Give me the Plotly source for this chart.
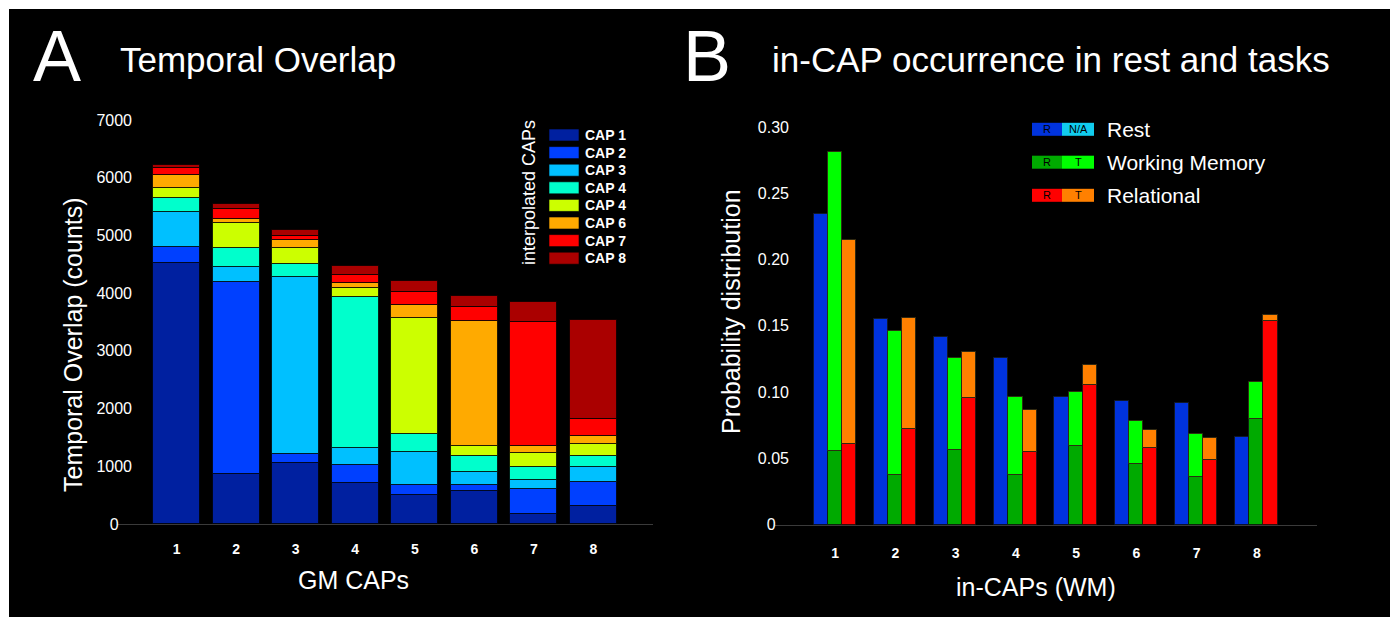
import numpy as np
import plotly.graph_objects as go

# ---------------- data ----------------
W, H = 1390, 617
FONT = "Liberation Sans, Arial, Helvetica, sans-serif"

gm_caps = [1, 2, 3, 4, 5, 6, 7, 8]
gm_cap_labels = ["1", "2", "3", "4", "5", "6", "7", "8"]

cap_names = ["CAP 1", "CAP 2", "CAP 3", "CAP 4", "CAP 4", "CAP 6", "CAP 7", "CAP 8"]
cap_colors = ["#0020a0", "#0040ff", "#00c0ff", "#00ffcc", "#ccff00", "#ffaa00", "#ff0000", "#aa0000"]
cap1 = [4514, 868, 1059, 712, 498, 573, 168, 307]
cap2 = [277, 3321, 161, 318, 179, 99, 445, 422]
cap3 = [608, 267, 3063, 289, 578, 231, 146, 261]
cap4 = [255, 318, 225, 2610, 313, 272, 231, 196]
cap4b = [162, 446, 271, 163, 2008, 174, 243, 208]
cap6 = [225, 70, 146, 92, 221, 2175, 121, 134]
cap7 = [134, 166, 57, 127, 218, 231, 2141, 290]
cap8 = [45, 94, 110, 151, 198, 203, 347, 1723]
series_a = [cap1, cap2, cap3, cap4, cap4b, cap6, cap7, cap8]

ya_ticks = [0, 1000, 2000, 3000, 4000, 5000, 6000, 7000]
ya_labels = ["0", "1000", "2000", "3000", "4000", "5000", "6000", "7000"]

in_caps = [1, 2, 3, 4, 5, 6, 7, 8]
in_cap_labels = ["1", "2", "3", "4", "5", "6", "7", "8"]
rest = [0.234, 0.155, 0.1417, 0.1259, 0.096, 0.0934, 0.0915, 0.066]
wm_R = [0.0557, 0.0374, 0.056, 0.0374, 0.0592, 0.0459, 0.0361, 0.0796]
wm_T = [0.2253, 0.1089, 0.0694, 0.0591, 0.0406, 0.032, 0.032, 0.0279]
rel_R = [0.0608, 0.0721, 0.0957, 0.0549, 0.1051, 0.0575, 0.0485, 0.1536]
rel_T = [0.1539, 0.0835, 0.0347, 0.0317, 0.0153, 0.014, 0.017, 0.0045]

yb_ticks = [0, 0.05, 0.10, 0.15, 0.20, 0.25, 0.30]
yb_labels = ["0", "0.05", "0.10", "0.15", "0.20", "0.25", "0.30"]

legend_b = [
    ("Rest", "R", "N/A", "#0033dd", "#11ccee"),
    ("Working Memory", "R", "T", "#00aa00", "#00ff00"),
    ("Relational", "R", "T", "#ff0000", "#ff8000"),
]

# ---------------- helpers (screen px -> paper) ----------------
def px(x):
    return x / W

def py(y):
    return 1 - y / H

def pad(lbl, n):
    return lbl + "\u00a0" * n

fig = go.Figure()

# ---------------- panel A ----------------
base = np.zeros(len(gm_caps))
for vals, col, name in zip(series_a, cap_colors, cap_names):
    fig.add_trace(go.Bar(
        x=gm_caps, y=vals, base=base.copy(), width=0.79,
        marker=dict(color=col, line=dict(color="rgba(0,0,0,0.75)", width=1)),
        name=name, xaxis="x", yaxis="y", showlegend=False,
    ))
    base = base + np.array(vals)

# ---------------- panel B ----------------
bw = 0.235
fig.add_trace(go.Bar(x=in_caps, y=rest, base=0, width=bw, offset=-0.36,
                     marker=dict(color="#0033dd", line=dict(color="#101828", width=1)),
                     xaxis="x2", yaxis="y2", showlegend=False, name="Rest"))
fig.add_trace(go.Bar(x=in_caps, y=wm_R, base=0, width=bw, offset=-0.125,
                     marker=dict(color="#00aa00", line=dict(color="#102010", width=1)),
                     xaxis="x2", yaxis="y2", showlegend=False, name="WM R"))
fig.add_trace(go.Bar(x=in_caps, y=wm_T, base=wm_R, width=bw, offset=-0.125,
                     marker=dict(color="#00ff00", line=dict(color="#2a3010", width=1)),
                     xaxis="x2", yaxis="y2", showlegend=False, name="WM T"))
fig.add_trace(go.Bar(x=in_caps, y=rel_R, base=0, width=bw, offset=0.11,
                     marker=dict(color="#ff0000", line=dict(color="#301010", width=1)),
                     xaxis="x2", yaxis="y2", showlegend=False, name="Rel R"))
fig.add_trace(go.Bar(x=in_caps, y=rel_T, base=rel_R, width=bw, offset=0.11,
                     marker=dict(color="#ff8000", line=dict(color="#302810", width=1)),
                     xaxis="x2", yaxis="y2", showlegend=False, name="Rel T"))

axis_common = dict(showgrid=False, zeroline=False, automargin=False)
xt = dict(family=FONT, size=14, color="white", weight="bold")
yt = dict(family=FONT, size=16, color="white")

fig.update_layout(
    width=W, height=H,
    margin=dict(l=0, r=0, t=0, b=0, pad=0, autoexpand=False),
    paper_bgcolor="black", plot_bgcolor="rgba(0,0,0,0)",
    barmode="overlay", bargap=0,
    showlegend=False,
    xaxis=dict(domain=[px(117), px(653)], range=[0, 9], anchor="y",
               tickvals=gm_caps, ticktext=gm_cap_labels, tickfont=xt,
               showline=True, linecolor="#3a3a3a", linewidth=1,
               ticks="", ticklabelstandoff=12, **axis_common),
    yaxis=dict(domain=[py(524), py(120)], range=[0, 7000], anchor="free",
               position=px(132),
               tickvals=ya_ticks, ticktext=[pad(l, 3) if l == "0" else l for l in ya_labels],
               tickfont=yt, showline=False, ticks="", **axis_common),
    xaxis2=dict(domain=[px(775), px(1317)], range=[0, 9], anchor="y2",
                tickvals=in_caps, ticktext=in_cap_labels, tickfont=xt,
                showline=True, linecolor="#3a3a3a", linewidth=1,
                ticks="", ticklabelstandoff=16, **axis_common),
    yaxis2=dict(domain=[py(524.5), py(127)], range=[0, 0.30], anchor="free",
                position=px(789),
                tickvals=yb_ticks, ticktext=[pad(l, 3) if l == "0" else l for l in yb_labels],
                tickfont=yt, showline=False, ticks="", **axis_common),
)

ann = []
shapes = []

def text(x, y, s, size, xanchor="center", angle=0, bold=False, color="white"):
    f = dict(family=FONT, size=size, color=color)
    if bold:
        f["weight"] = "bold"
    ann.append(dict(x=px(x), y=py(y), xref="paper", yref="paper", text=s,
                    showarrow=False, xanchor=xanchor, yanchor="middle",
                    textangle=angle, font=f))

# panel letters and titles
text(57, 56, "A", 72)
text(118, 60, "Temporal Overlap", 35, xanchor="left")
text(707, 56, "B", 72)
text(770, 60, "in-CAP occurrence in rest and tasks", 35, xanchor="left")

# axis titles
text(73, 345, "Temporal Overlap (counts)", 25, angle=-90)
text(353, 580, "GM CAPs", 25)
text(731, 312, "Probability distribution", 25, angle=-90)
text(1036, 587, "in-CAPs (WM)", 25)

# legend A
text(528.5, 192.5, "interpolated CAPs", 18, angle=-90)
for i, (name, col) in enumerate(zip(cap_names, cap_colors)):
    yc = 135 + 17.6 * i
    shapes.append(dict(type="rect", xref="paper", yref="paper",
                       x0=px(549), x1=px(579), y0=py(yc + 6), y1=py(yc - 6),
                       fillcolor=col, line=dict(color="rgba(0,0,0,0.6)", width=1)))
    text(583, yc, name, 14, xanchor="left", bold=True)

# legend B
for i, (name, l1, l2, c1, c2) in enumerate(legend_b):
    yc = [129.3, 162.2, 195.3][i]
    shapes.append(dict(type="rect", xref="paper", yref="paper",
                       x0=px(1032), x1=px(1062), y0=py(yc + 6.5), y1=py(yc - 6.5),
                       fillcolor=c1, line=dict(width=0)))
    shapes.append(dict(type="rect", xref="paper", yref="paper",
                       x0=px(1062), x1=px(1094), y0=py(yc + 6.5), y1=py(yc - 6.5),
                       fillcolor=c2, line=dict(width=0)))
    text(1047, yc, l1, 11, color="black")
    text(1078, yc, l2, 11, color="black")
    text(1105, yc, name, 21, xanchor="left")

# white frame along the left and top edges
shapes.append(dict(type="rect", xref="paper", yref="paper", x0=0, x1=px(9), y0=0, y1=1,
                   fillcolor="white", line=dict(width=0), layer="above"))
shapes.append(dict(type="rect", xref="paper", yref="paper", x0=0, x1=1, y0=py(9), y1=1,
                   fillcolor="white", line=dict(width=0), layer="above"))

fig.update_layout(annotations=ann, shapes=shapes)

page_fix = ("document.documentElement.style.margin='0';"
            "document.body.style.margin='0';"
            "document.documentElement.style.overflow='hidden';"
            "document.body.style.overflow='hidden';")
fig.write_html("out.html", post_script=page_fix, config={"displayModeBar": False})
